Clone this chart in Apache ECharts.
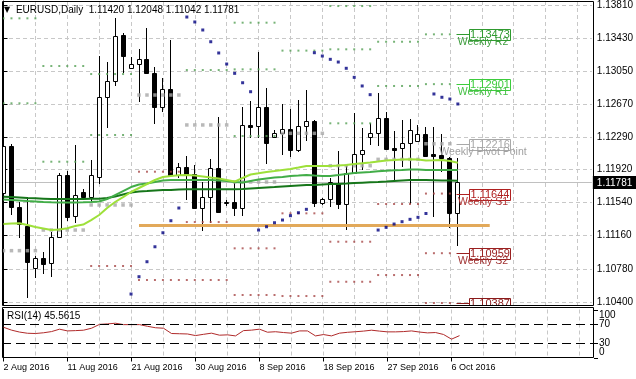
<!DOCTYPE html>
<html><head><meta charset="utf-8">
<script src="https://cdn.jsdelivr.net/npm/echarts@6/dist/echarts.min.js"></script>
<style>html,body{margin:0;padding:0;background:#fff}#c{width:636px;height:379px}</style>
</head><body><div id="c"></div>
<script>
// ---------- data ----------
const symbolName = 'EURUSD,Daily';
const dates = ['2 Aug 2016','3 Aug 2016','4 Aug 2016','5 Aug 2016','7 Aug 2016','8 Aug 2016','9 Aug 2016','10 Aug 2016','11 Aug 2016','12 Aug 2016','14 Aug 2016','15 Aug 2016','16 Aug 2016','17 Aug 2016','18 Aug 2016','19 Aug 2016','21 Aug 2016','22 Aug 2016','23 Aug 2016','24 Aug 2016','25 Aug 2016','26 Aug 2016','28 Aug 2016','29 Aug 2016','30 Aug 2016','31 Aug 2016','1 Sep 2016','2 Sep 2016','4 Sep 2016','5 Sep 2016','6 Sep 2016','7 Sep 2016','8 Sep 2016','9 Sep 2016','11 Sep 2016','12 Sep 2016','13 Sep 2016','14 Sep 2016','15 Sep 2016','16 Sep 2016','18 Sep 2016','19 Sep 2016','20 Sep 2016','21 Sep 2016','22 Sep 2016','23 Sep 2016','25 Sep 2016','26 Sep 2016','27 Sep 2016','28 Sep 2016','29 Sep 2016','30 Sep 2016','2 Oct 2016','3 Oct 2016','4 Oct 2016','5 Oct 2016','6 Oct 2016','7 Oct 2016'];
const open  = [1.11654,1.12190,1.11493,1.11275,1.10789,1.10904,1.10846,1.11145,1.11857,1.11386,1.11665,1.11601,1.11838,1.12757,1.12937,1.13465,1.13083,1.13132,1.13186,1.13025,1.12635,1.12842,1.11857,1.11946,1.11869,1.11475,1.11601,1.11934,1.11539,1.11550,1.11475,1.12432,1.12420,1.12635,1.12297,1.12336,1.12382,1.12144,1.12420,1.12477,1.11532,1.11578,1.11769,1.11521,1.11884,1.12095,1.12290,1.12336,1.12508,1.12164,1.12164,1.12221,1.12251,1.12328,1.12095,1.12087,1.12049,1.11420];
const high  = [1.12328,1.12213,1.11547,1.11608,1.10927,1.10973,1.11202,1.11880,1.11903,1.12202,1.11696,1.12029,1.13224,1.13159,1.13657,1.13485,1.13216,1.13301,1.13542,1.13101,1.12968,1.13408,1.11992,1.12075,1.11972,1.11780,1.12038,1.12520,1.11570,1.11780,1.12635,1.12711,1.13274,1.12853,1.12374,1.12673,1.12612,1.12719,1.12834,1.12489,1.11596,1.11823,1.12136,1.11972,1.12573,1.12394,1.12451,1.12796,1.12584,1.12363,1.12489,1.12497,1.12432,1.12412,1.12405,1.12328,1.12067,1.12048];
const low   = [1.11627,1.11398,1.11133,1.10444,1.10674,1.10720,1.10685,1.11133,1.11332,1.11306,1.11593,1.11550,1.11754,1.12394,1.12880,1.13025,1.13080,1.12699,1.13017,1.12443,1.12581,1.11846,1.11823,1.11570,1.11467,1.11217,1.11306,1.11432,1.11501,1.11386,1.11386,1.12279,1.12279,1.11984,1.12279,1.12087,1.12067,1.12125,1.12248,1.11493,1.11513,1.11493,1.11463,1.11225,1.11869,1.11915,1.12202,1.12190,1.12144,1.11800,1.11952,1.11524,1.12240,1.12067,1.11371,1.11895,1.11254,1.11042];
const close = [1.12190,1.11490,1.11294,1.10861,1.10904,1.10835,1.11145,1.11857,1.11378,1.11627,1.11608,1.11857,1.12757,1.12937,1.13454,1.13224,1.13132,1.13186,1.13025,1.12635,1.12842,1.11857,1.11946,1.11857,1.11475,1.11601,1.11934,1.11436,1.11544,1.11475,1.12432,1.12409,1.12635,1.12228,1.12343,1.12382,1.12144,1.12420,1.12477,1.11532,1.11578,1.11780,1.11521,1.11884,1.12095,1.12144,1.12343,1.12508,1.12152,1.12150,1.12221,1.12374,1.12328,1.12075,1.12081,1.12047,1.11417,1.11781];
const maLight = [1.11294,1.11300,1.11302,1.11283,1.11260,1.11243,1.11225,1.11231,1.11245,1.11271,1.11288,1.11340,1.11398,1.11478,1.11547,1.11604,1.11662,1.11708,1.11754,1.11800,1.11834,1.11846,1.11854,1.11857,1.11851,1.11840,1.11828,1.11817,1.11800,1.11782,1.11823,1.11863,1.11877,1.11892,1.11903,1.11915,1.11926,1.11943,1.11961,1.11961,1.11961,1.11961,1.11966,1.11972,1.11983,1.11992,1.12001,1.12012,1.12024,1.12029,1.12035,1.12037,1.12035,1.12024,1.12026,1.12029,1.12018,1.11998];
const maMid = [1.11576,1.11570,1.11564,1.11558,1.11553,1.11547,1.11543,1.11541,1.11541,1.11541,1.11543,1.11547,1.11553,1.11581,1.11627,1.11673,1.11719,1.11748,1.11759,1.11777,1.11794,1.11800,1.11800,1.11800,1.11800,1.11800,1.11800,1.11794,1.11788,1.11777,1.11771,1.11788,1.11805,1.11817,1.11828,1.11834,1.11846,1.11851,1.11857,1.11851,1.11846,1.11846,1.11857,1.11869,1.11880,1.11886,1.11892,1.11900,1.11907,1.11911,1.11915,1.11920,1.11920,1.11915,1.11915,1.11915,1.11915,1.11915];
const maDark = [1.11608,1.11604,1.11599,1.11593,1.11589,1.11585,1.11581,1.11581,1.11581,1.11581,1.11581,1.11584,1.11585,1.11593,1.11610,1.11633,1.11656,1.11668,1.11673,1.11679,1.11685,1.11685,1.11691,1.11693,1.11693,1.11693,1.11693,1.11693,1.11693,1.11693,1.11696,1.11702,1.11708,1.11714,1.11719,1.11725,1.11731,1.11737,1.11742,1.11742,1.11748,1.11754,1.11754,1.11759,1.11765,1.11769,1.11773,1.11777,1.11782,1.11788,1.11794,1.11800,1.11800,1.11800,1.11797,1.11794,1.11794,1.11792];
const sar = [null,null,null,null,null,null,null,null,null,null,null,null,null,null,null,null,
  1.10490,1.10689,1.10861,1.11033,1.11194,1.11332,1.11478,
  1.13672,1.13615,1.13523,1.13388,1.13259,1.13132,1.13025,1.12917,1.12814,
  1.11225,1.11263,1.11309,1.11340,1.11390,1.11424,1.11463,
  1.13262,1.13224,1.13186,1.13155,1.13083,1.12979,1.12880,1.12780,
  1.11225,1.11256,1.11294,1.11321,1.11348,1.11371,1.11415,
  1.12788,1.12750,1.12730,1.12673];
const rsi = [63,57,53,50.5,50,51.5,54,59,55.4,56,56.9,61,69,70,71.4,68.5,68.5,68.5,65,62,61,50,49.5,49,45.7,48.3,50.7,46.5,47.2,45,56,57,59,52.7,53.7,52,50.7,55.4,55.4,45,47.8,45,50.7,52.5,53.7,55,56.9,55,53.4,53.4,54,55.4,53,51.3,52,48,38.2,45.5615];
// weekly pivot levels (one value per week)
const weekStart = [0,5,11,17,23,29,35,41,47,53];
const weekEnd   = [4,10,16,22,28,34,40,46,52,56];
const pivotR3 = [null,null,null,null,null,1.13607,null,1.13798,null,null];
const pivotR2 = [1.13657,1.13109,1.13017,null,null,1.13071,null,1.13301,1.13388,1.13473];
const pivotR1 = [1.12681,1.12010,1.12317,null,1.13063,1.12305,1.13286,1.12451,1.12880,1.12901];
const pivotP  = [1.10988,1.11225,1.11513,1.12776,1.12432,1.11777,1.12336,1.11964,1.12037,1.12216];
const pivotS1 = [null,null,1.10812,1.11895,1.11317,1.11015,1.11417,1.11091,1.11524,1.11644];
const pivotS2 = [null,null,null,1.10651,1.10651,1.10479,1.10467,1.10631,1.10708,1.10959];
const pivotS3 = [null,null,null,null,null,null,null,null,null,1.10387];
const levelNames = ['Weekly R2','Weekly R1','Weekly Pivot Point','Weekly S1','Weekly S2','Weekly S3'];
const supportPrice = 1.11275;
const supportSpan = [17, 61];
const priceTicks = [1.10400,1.10780,1.11160,1.11540,1.11920,1.12290,1.12670,1.13050,1.13430,1.13810];
const xTickIdx = [0,8,16,24,32,40,48,56];
const rsiTicks = [0,30,70,100];
const rsiLevels = [30,70];

// ---------- chart ----------
const FONT = '"Liberation Sans", Arial, sans-serif';
const N = open.length;
const XMIN = -0.1875, XMAX = 73.8125;
const gridIdx = []; for (let i = 0; i <= 72; i += 4) gridIdx.push(i);
const GRIDLINE = {show:true, lineStyle:{color:'#c8c8c8', width:1, type:[4,3]}};

const candles = open.map((o,i)=>[i,o,close[i],low[i],high[i]]);
function levelDots(arr){ const d=[]; arr.forEach((v,w)=>{ if(v==null) return; for(let i=weekStart[w]; i<=weekEnd[w]; i++) d.push([i,v]); }); return d; }
const lastW = weekStart.length-1;
const lvlArrays = [pivotR2,pivotR1,pivotP,pivotS1,pivotS2,pivotS3];
const boxColors = ['#2f9a2f','#3dcc3d','#a8a8a8','#b02020','#9a2020','#8a1a1a'];
const nameColors = ['#3c9c3c','#45c045','#a0a0a0','#b03434','#a03232','#902626'];
const labelData = lvlArrays.map((a,k)=>[N-1, a[lastW], k]);

const option = {
  animation:false,
  backgroundColor:'#fff',
  title:[
    {text:'{t|\u25BC} ' + symbolName + '  ' + [open[N-1],high[N-1],low[N-1],close[N-1]].map(v=>v.toFixed(5)).join(' '),
     left:4, top:5, padding:0,
     textStyle:{fontFamily:FONT, fontSize:10, fontWeight:'normal', color:'#000',
       rich:{t:{fontFamily:'DejaVu Sans', fontSize:8, color:'#000', padding:[0,3,0,0]}}}},
    {text:'RSI(14) ' + rsi[N-1].toFixed(4), left:7, top:311, padding:0,
     textStyle:{fontFamily:FONT, fontSize:10, fontWeight:'normal', color:'#000'}}
  ],
  grid:[
    {left:2, top:1, width:592, height:304},
    {left:2, top:309.5, width:592, height:48}
  ],
  xAxis:[
    {gridIndex:0, type:'value', min:XMIN, max:XMAX, axisLine:{show:false},
     axisTick:{show:false, customValues:gridIdx}, axisLabel:{show:false}, splitLine:GRIDLINE},
    {gridIndex:1, type:'value', min:XMIN, max:XMAX, position:'bottom', axisLine:{show:false},
     axisTick:{show:true, customValues:xTickIdx, length:4, lineStyle:{color:'#000'}},
     axisLabel:{show:true, customValues:xTickIdx, formatter:v=>dates[Math.round(v)], align:'left',
       margin:6, fontFamily:FONT, fontSize:9, color:'#000'}, splitLine:{show:false}},
    {gridIndex:1, type:'value', min:XMIN, max:XMAX, position:'top', axisLine:{show:false},
     axisTick:{show:false, customValues:gridIdx}, axisLabel:{show:false}, splitLine:GRIDLINE}
  ],
  yAxis:[
    {gridIndex:0, type:'value', position:'right', min:1.10364, max:1.13856,
     axisLine:{show:true, lineStyle:{color:'#000'}},
     axisTick:{show:true, length:4, customValues:priceTicks, lineStyle:{color:'#000'}},
     axisLabel:{show:true, customValues:priceTicks, formatter:v=>v.toFixed(5), margin:5,
       showMinLabel:true, showMaxLabel:true, fontFamily:FONT, fontSize:10, color:'#000'},
     splitLine:GRIDLINE},
    {gridIndex:1, type:'value', position:'right', min:0, max:100,
     axisLine:{show:true, lineStyle:{color:'#000'}},
     axisTick:{show:false}, axisLabel:{show:false}, splitLine:{show:false}}
  ],
  graphic:[
    {type:'rect', z:100, shape:{x:2.5, y:1.5, width:591, height:304}, style:{fill:null, stroke:'#000', lineWidth:1}},
    {type:'rect', z:100, shape:{x:2.5, y:307.5, width:591, height:50}, style:{fill:null, stroke:'#000', lineWidth:1}}
  ],
  series:[
    {type:'custom', name:'bid', xAxisIndex:0, yAxisIndex:0, z:1, clip:false, data:[[N-1, close[N-1]]],
     renderItem:(params, api)=>{
       const cs = params.coordSys;
       const p = api.coord([api.value(0), api.value(1)]);
       const y = Math.round(p[1])+0.5;
       const xr = cs.x + cs.width;
       return {type:'group', children:[
         {type:'line', shape:{x1:cs.x, y1:y, x2:xr, y2:y}, style:{stroke:'#c0c0c0', lineWidth:1}},
         {type:'rect', shape:{x:xr+1, y:y-6.5, width:44, height:13}, style:{fill:'#000'}},
         {type:'text', style:{text:api.value(1).toFixed(5), x:xr+5, y:y+0.5, verticalAlign:'middle', fill:'#fff', font:'10px '+FONT}}
       ]};
     }},
    {type:'custom', name:'candles', xAxisIndex:0, yAxisIndex:0, z:2, clip:true, data:candles,
     renderItem:(params, api)=>{
       const i=api.value(0), o=api.value(1), c=api.value(2), l=api.value(3), h=api.value(4);
       const po=api.coord([i,o]), pc=api.coord([i,c]), pl=api.coord([i,l]), ph=api.coord([i,h]);
       const x=Math.round(po[0]-0.5)+0.5;
       const top=Math.round(Math.min(po[1],pc[1]))+0.5, bot=Math.round(Math.max(po[1],pc[1]))+0.5;
       const up=c>=o;
       return {type:'group', children:[
         {type:'line', shape:{x1:x,y1:Math.round(ph[1]),x2:x,y2:Math.round(pl[1])}, style:{stroke:'#000', lineWidth:1}},
         {type:'rect', shape:{x:x-2, y:top, width:4, height:Math.max(bot-top,0)}, style:{fill:up?'#fff':'#000', stroke:'#000', lineWidth:1}}
       ]};
     }},
    {type:'scatter', name:'R', xAxisIndex:0, yAxisIndex:0, z:3, symbol:'rect', symbolSize:2,
     itemStyle:{color:'#55a055'}, data:[].concat(levelDots(pivotR3),levelDots(pivotR2),levelDots(pivotR1))},
    {type:'scatter', name:'P', xAxisIndex:0, yAxisIndex:0, z:3, symbol:'rect', symbolSize:3.5,
     itemStyle:{color:'#a8a8a8'}, data:levelDots(pivotP)},
    {type:'scatter', name:'S', xAxisIndex:0, yAxisIndex:0, z:3, symbol:'rect', symbolSize:2,
     itemStyle:{color:'#a84848'}, data:[].concat(levelDots(pivotS1),levelDots(pivotS2),levelDots(pivotS3))},
    {type:'scatter', name:'SAR', xAxisIndex:0, yAxisIndex:0, z:5, symbol:'rect', symbolSize:3,
     itemStyle:{color:'#000080'}, data:sar.map((v,i)=>v==null?null:[i,v]).filter(d=>d)},
    {type:'line', name:'maDark', xAxisIndex:0, yAxisIndex:0, z:4, showSymbol:false, symbol:'none',
     lineStyle:{color:'#16761a', width:2}, data:maDark.map((v,i)=>[i,v])},
    {type:'line', name:'maMid', xAxisIndex:0, yAxisIndex:0, z:4, showSymbol:false, symbol:'none',
     lineStyle:{color:'#42ad48', width:2}, data:maMid.map((v,i)=>[i,v])},
    {type:'line', name:'maLight', xAxisIndex:0, yAxisIndex:0, z:4, showSymbol:false, symbol:'none',
     lineStyle:{color:'#9ee03a', width:2}, data:maLight.map((v,i)=>[i,v])},
    {type:'line', name:'support', xAxisIndex:0, yAxisIndex:0, z:6, data:[],
     markLine:{silent:true, symbol:['none','none'], animation:false, label:{show:false},
       data:[
         [{coord:[supportSpan[0], supportPrice], lineStyle:{color:'#e2a95a', width:3, type:'solid'}},
          {coord:[supportSpan[1], supportPrice]}]
       ]}},
    {type:'custom', name:'levelLabels', xAxisIndex:0, yAxisIndex:0, z:7, clip:true, data:labelData,
     renderItem:(params, api)=>{
       const k=api.value(2), price=api.value(1);
       const p=api.coord([api.value(0), price]);
       const y=Math.round(p[1])+0.5, x=Math.round(p[0]);
       const col=boxColors[k];
       return {type:'group', children:[
         {type:'line', shape:{x1:x-1.5,y1:y,x2:x+11,y2:y}, style:{stroke:col, lineWidth:1}},
         {type:'rect', shape:{x:x+11.5, y:y-5, width:41, height:11}, style:{fill:'#fff', stroke:col, lineWidth:1}},
         {type:'text', style:{text:price.toFixed(5), x:x+32, y:y+0.5, align:'center', verticalAlign:'middle', fill:col, font:'11px '+FONT}},
         {type:'text', style:{text:levelNames[k], x:x+25, y:y+8, align:'center', verticalAlign:'middle', fill:nameColors[k], font:'10.5px '+FONT}}
       ]};
     }},
    {type:'line', name:'RSI', xAxisIndex:1, yAxisIndex:1, z:4, showSymbol:false, symbol:'none',
     lineStyle:{color:'#b02a2a', width:1}, data:rsi.map((v,i)=>[i,v]),
     markLine:{silent:true, symbol:['none','none'], label:{show:false},
       lineStyle:{color:'#000', width:1, type:[9,5]}, data:rsiLevels.map(v=>({yAxis:v}))}},
    {type:'custom', name:'rsiAxis', xAxisIndex:1, yAxisIndex:1, z:8, clip:false,
     data:rsiTicks.map(v=>[XMAX, v]),
     renderItem:(params, api)=>{
       const v=api.value(1);
       const p=api.coord([api.value(0), v]);
       const ty=Math.round(p[1])+0.5;
       const shift = v>=100 ? 5.5 : (v<=0 ? -5.5 : 0);
       return {type:'group', children:[
         {type:'line', shape:{x1:p[0], y1:ty, x2:p[0]+4, y2:ty}, style:{stroke:'#000', lineWidth:1}},
         {type:'text', style:{text:String(v), x:p[0]+5, y:p[1]+shift, verticalAlign:'middle', fill:'#000', font:'10px '+FONT}}
       ]};
     }}
  ]
};
const chart = echarts.init(document.getElementById('c'));
chart.setOption(option);
</script>
</body></html>
